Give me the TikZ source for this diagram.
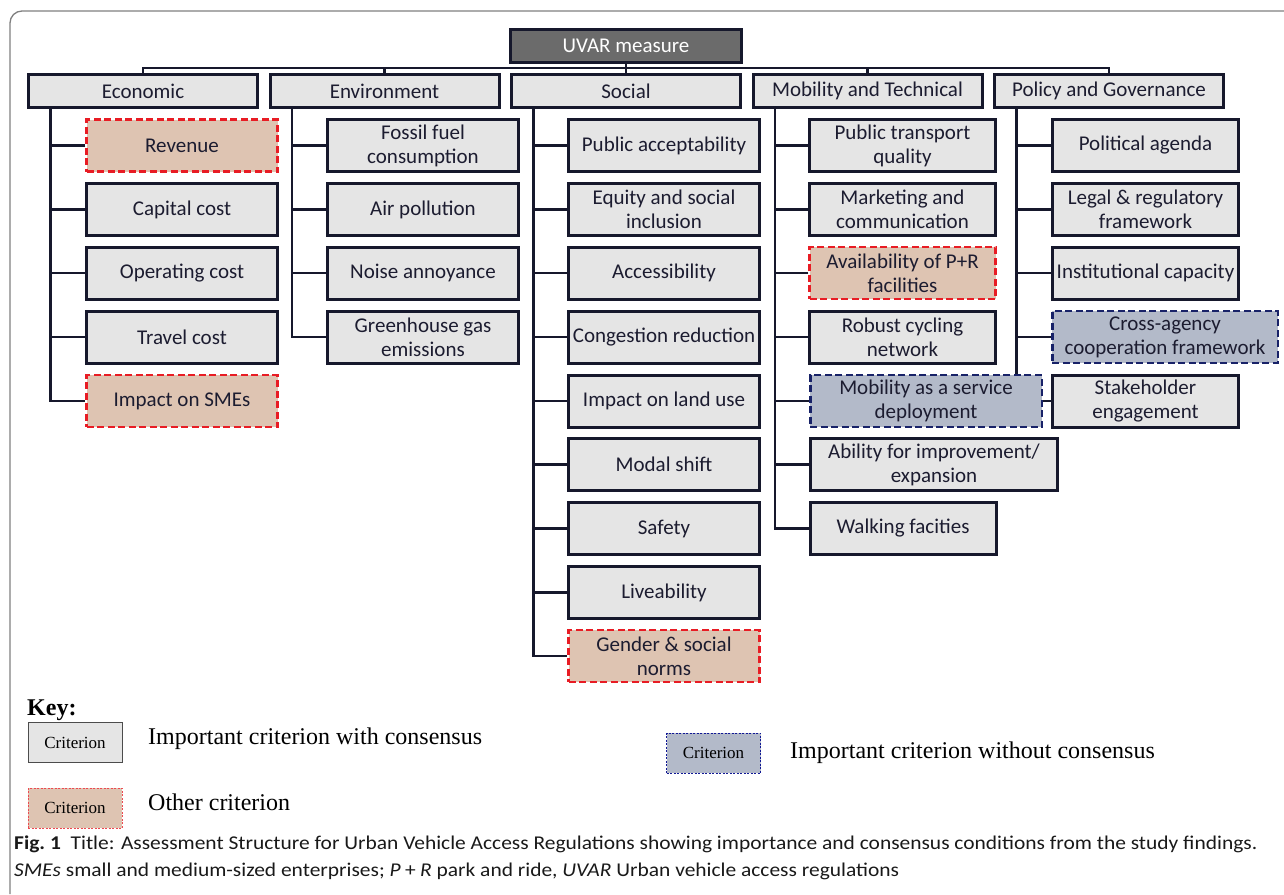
\documentclass[tikz,border=0pt]{standalone}
\usepackage{fontspec}
\setmainfont{Carlito}
\newfontfamily\keyfont{Liberation Serif}
\newfontfamily\capfont[FakeStretch=1.1]{Carlito}
\usepackage{tikz}
\usetikzlibrary{positioning,backgrounds}
\definecolor{ink}{RGB}{22,24,44}
\definecolor{txt}{RGB}{28,28,48}
\definecolor{boxgray}{RGB}{229,229,229}
\definecolor{topgray}{RGB}{107,107,107}
\definecolor{sand}{RGB}{222,196,178}
\definecolor{redd}{RGB}{232,28,36}
\definecolor{bluegray}{RGB}{179,186,201}
\definecolor{navy}{RGB}{24,34,104}
\definecolor{framegray}{RGB}{128,128,128}

\begin{document}
\begin{tikzpicture}[x=1pt,y=1pt,
        box/.style={draw=ink,fill=boxgray,line width=3pt,text=txt,align=center,inner sep=2pt,
                    font=\fontsize{21}{24}\selectfont},
        cat/.style={box,minimum width=229pt,minimum height=33pt},
        crit/.style={box,minimum width=191pt,minimum height=52pt},
        other/.style={crit,draw=redd,fill=sand,line width=2.5pt,dash pattern=on 7pt off 3.5pt},
        nocons/.style={crit,draw=navy,fill=bluegray,line width=2.5pt,dash pattern=on 7pt off 3.5pt},
        branch/.style={draw=ink,line width=2.8pt},
        keybox/.style={minimum width=94pt,minimum height=40pt,line width=1pt,inner sep=0pt,
                       font=\keyfont\fontsize{17}{17}\selectfont},
        keytext/.style={anchor=base west,inner sep=0pt,font=\keyfont\fontsize{24}{24}\selectfont},
        captext/.style={anchor=base west,inner sep=0pt,text=black!90,font=\capfont\fontsize{19.5}{19.5}\selectfont}]
      \useasboundingbox (0,0) rectangle (1284,-894);
      \draw[framegray,line width=1.3pt,rounded corners=12pt] (10,-894) -- (10,-11) -- (1290,-11);

      % top of the tree
      \node[box,fill=topgray,text=white,minimum width=231pt,minimum height=33pt] (uvar) at (626,-46) {UVAR measure};
      \node[cat] (eco) at (143,-91) {Economic};
      \node[cat,right=9.5pt of eco] (env) {Environment};
      \node[cat,right=9.5pt of env] (soc) {Social};
      \node[cat,right=9.5pt of soc] (mob) {Mobility and Technical};
      \node[cat,right=9.5pt of mob] (pol) {Policy and Governance};

      % economic
      \node[other] (rev) at (182,-145.5) {Revenue};
      \node[crit] (cap) at (182,-209.5) {Capital cost};
      \node[crit] (ope) at (182,-273) {Operating cost};
      \node[crit] (tra) at (182,-337) {Travel cost};
      \node[other] (sme) at (182,-401) {Impact on SMEs};

      % environment
      \node[crit] (fos) at (423,-145.5) {Fossil fuel\\consumption};
      \node[crit] (air) at (423,-209.5) {Air pollution};
      \node[crit] (noi) at (423,-273) {Noise annoyance};
      \node[crit] (ghg) at (423,-337) {Greenhouse gas\\emissions};

      % social
      \node[crit] (acc) at (664,-145.5) {Public acceptability};
      \node[crit] (equ) at (664,-209.5) {Equity and social\\inclusion};
      \node[crit] (aci) at (664,-273) {Accessibility};
      \node[crit] (con) at (664,-337) {Congestion reduction};
      \node[crit] (lan) at (664,-401) {Impact on land use};
      \node[crit] (mod) at (664,-464.5) {Modal shift};
      \node[crit] (saf) at (664,-528.5) {Safety};
      \node[crit] (liv) at (664,-592.5) {Liveability};
      \node[other] (gen) at (664,-656) {Gender \& social\\norms};

      % mobility and technical
      \node[crit,minimum width=186pt] (ptq) at (902.5,-145.5) {Public transport\\quality};
      \node[crit,minimum width=186pt] (mkt) at (902.5,-209.5) {Marketing and\\communication};
      \node[other,minimum width=186pt] (pnr) at (902.5,-273) {Availability of P+R\\facilities};
      \node[crit,minimum width=186pt] (cyc) at (902.5,-337) {Robust cycling\\network};
      \node[nocons,minimum width=231.5pt] (maas) at (926,-401) {Mobility as a service\\deployment};
      \node[crit,minimum width=247pt] (abi) at (934,-464.5) {Ability for improvement/\\expansion};
      \node[crit,minimum width=186pt] (wal) at (903,-528.5) {Walking facities};

      % policy and governance
      \node[crit,minimum width=186pt] (agd) at (1145.5,-145.5) {Political agenda};
      \node[crit,minimum width=186pt] (leg) at (1145.5,-209.5) {Legal \& regulatory\\framework};
      \node[crit,minimum width=186pt] (ins) at (1145.5,-273) {Institutional capacity};
      \node[nocons,minimum width=225.5pt] (cro) at (1165,-337) {Cross-agency\\cooperation framework};
      \node[crit,minimum width=186pt] (stk) at (1145.5,-401) {Stakeholder\\engagement};

      \begin{scope}[on background layer]
        \coordinate (bus) at (0,-68);
        \draw[branch] (uvar.south) -- (soc.north);
        \draw[branch] (eco.north) |- (pol.north |- bus) -- (pol.north);
        \foreach \c in {env,mob} \draw[branch] (\c.north) -- (\c.north |- bus);
        \coordinate (ecoT) at ([xshift=23.5pt]eco.south west);
        \coordinate (envT) at ([xshift=23.5pt]env.south west);
        \coordinate (socT) at ([xshift=23.5pt]soc.south west);
        \coordinate (mobT) at ([xshift=23.5pt]mob.south west);
        \coordinate (polT) at ([xshift=23.5pt]pol.south west);
        \draw[branch] (ecoT) |- (sme.west);
        \draw[branch] (envT) |- (ghg.west);
        \draw[branch] (socT) |- (gen.west);
        \draw[branch] (mobT) |- (wal.west);
        \draw[branch] (polT) |- (stk.west);
        \foreach \c in {rev,cap,ope,tra} \draw[branch] (\c.west) -- (\c.west -| ecoT);
        \foreach \c in {fos,air,noi} \draw[branch] (\c.west) -- (\c.west -| envT);
        \foreach \c in {acc,equ,aci,con,lan,mod,saf,liv} \draw[branch] (\c.west) -- (\c.west -| socT);
        \foreach \c in {ptq,mkt,pnr,cyc,maas,abi} \draw[branch] (\c.west) -- (\c.west -| mobT);
        \foreach \c in {agd,leg,ins,cro} \draw[branch] (\c.west) -- (\c.west -| polT);
      \end{scope}

      % key
      \node[anchor=base west,inner sep=0pt,font=\keyfont\bfseries\fontsize{24}{24}\selectfont] (key) at (27,-715) {Key:};
      \node[keybox,draw=black!70,fill=boxgray] (k1) at (75,-742.5) {Criterion};
      \node[keytext] (t1) at (148,-744) {Important criterion with consensus};
      \node[keybox,draw=navy!70!blue,fill=bluegray,dash pattern=on 2pt off 1.5pt] (k2) at (713.5,-753) {Criterion};
      \node[keytext] (t2) at (790,-758) {Important criterion without consensus};
      \node[keybox,draw=redd!80,fill=sand,dash pattern=on 2pt off 1.5pt] (k3) at (75,-808) {Criterion};
      \node[keytext] (t3) at (148,-810) {Other criterion};

      % caption
      \node[captext] (cap1) at (14,-849) {\textbf{Fig.~1}\enspace Title: Assessment Structure for Urban Vehicle Access Regulations showing importance and consensus conditions from the study findings.};
      \node[captext] (cap2) at (14,-876) {\textit{SMEs} small and medium-sized enterprises; \textit{P}\:+\:\textit{R} park and ride, \textit{UVAR} Urban vehicle access regulations};
\end{tikzpicture}
\end{document}
